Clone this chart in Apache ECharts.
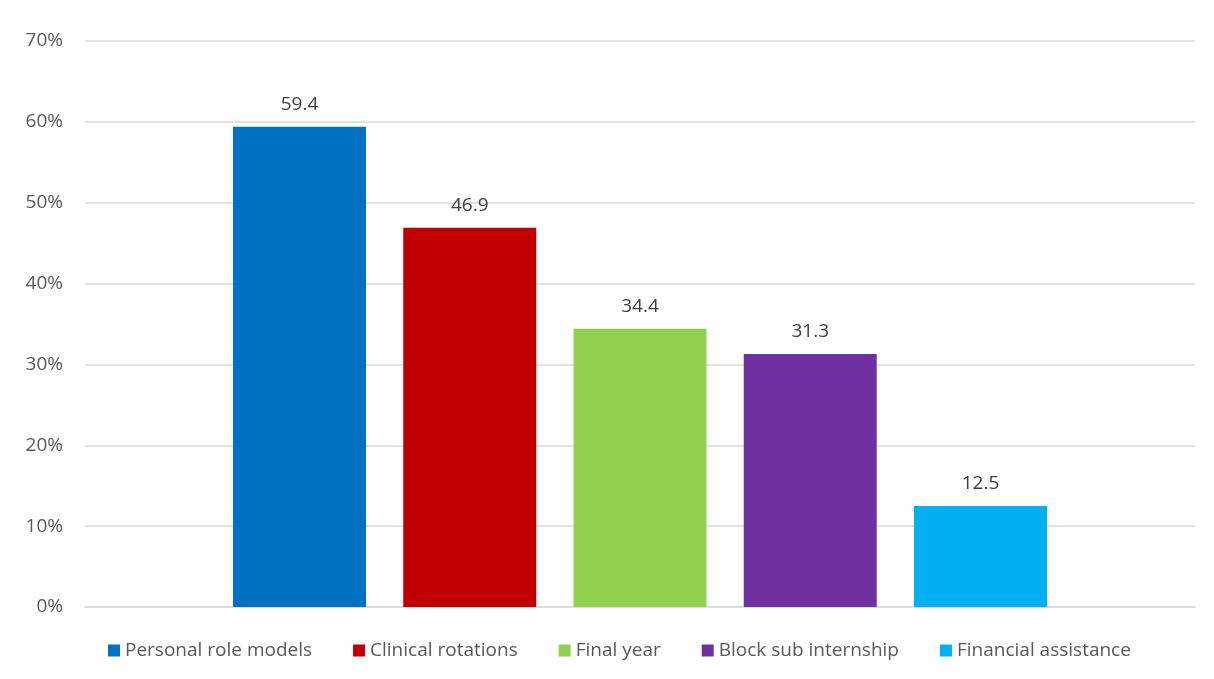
<!DOCTYPE html>
<html>
<head>
<meta charset="utf-8">
<script src="https://cdn.jsdelivr.net/npm/echarts@6/dist/echarts.min.js"></script>
<style>
  html, body { margin: 0; padding: 0; background: #fff; }
  #grafico { width: 1214px; height: 679px; }
</style>
</head>
<body>
<div id="grafico"></div>
<script>
// datos del grafico
const categorias = ['Personal role models', 'Clinical rotations', 'Final year', 'Block sub internship', 'Financial assistance'];
const valores = [59.4, 46.9, 34.4, 31.3, 12.5];
const colores = ['#0070C0', '#C00000', '#92D050', '#7030A0', '#00B0F0'];
const ticksY = [0, 10, 20, 30, 40, 50, 60, 70];

const fuente = '"Open Sans", "Noto Sans", sans-serif';

const series = categorias.map(function (nombre, i) {
  return {
    name: nombre,
    type: 'bar',
    barWidth: 133,
    barGap: '28%',
    data: [valores[i]],
    itemStyle: { color: colores[i] },
    label: {
      show: true,
      position: 'top',
      distance: 13,
      color: '#404040',
      fontSize: 19,
      fontFamily: fuente,
      formatter: function (p) { return p.value.toFixed(1); }
    }
  };
});

const chart = echarts.init(document.getElementById('grafico'));
chart.setOption({
  animation: false,
  textStyle: { fontFamily: fuente },
  grid: { left: 85, right: 19, top: 41, bottom: 72, containLabel: false },
  legend: {
    top: 636,
    left: 103,
    itemWidth: 12,
    itemHeight: 12,
    itemGap: 41,
    icon: 'rect',
    textStyle: { color: '#595959', fontSize: 19, fontFamily: fuente },
    data: categorias
  },
  xAxis: {
    type: 'category',
    data: [''],
    axisLine: { lineStyle: { color: '#d9d9d9', width: 1.5 } },
    axisTick: { show: false },
    axisLabel: { show: false }
  },
  yAxis: {
    type: 'value',
    min: ticksY[0],
    max: ticksY[ticksY.length - 1],
    interval: 10,
    axisLine: { show: false },
    axisTick: { show: false },
    axisLabel: {
      color: '#595959',
      fontSize: 19,
      margin: 22,
      fontFamily: fuente,
      formatter: '{value}%'
    },
    splitLine: { lineStyle: { color: '#d9d9d9', width: 1.5 } }
  },
  series: series
});
</script>
</body>
</html>
